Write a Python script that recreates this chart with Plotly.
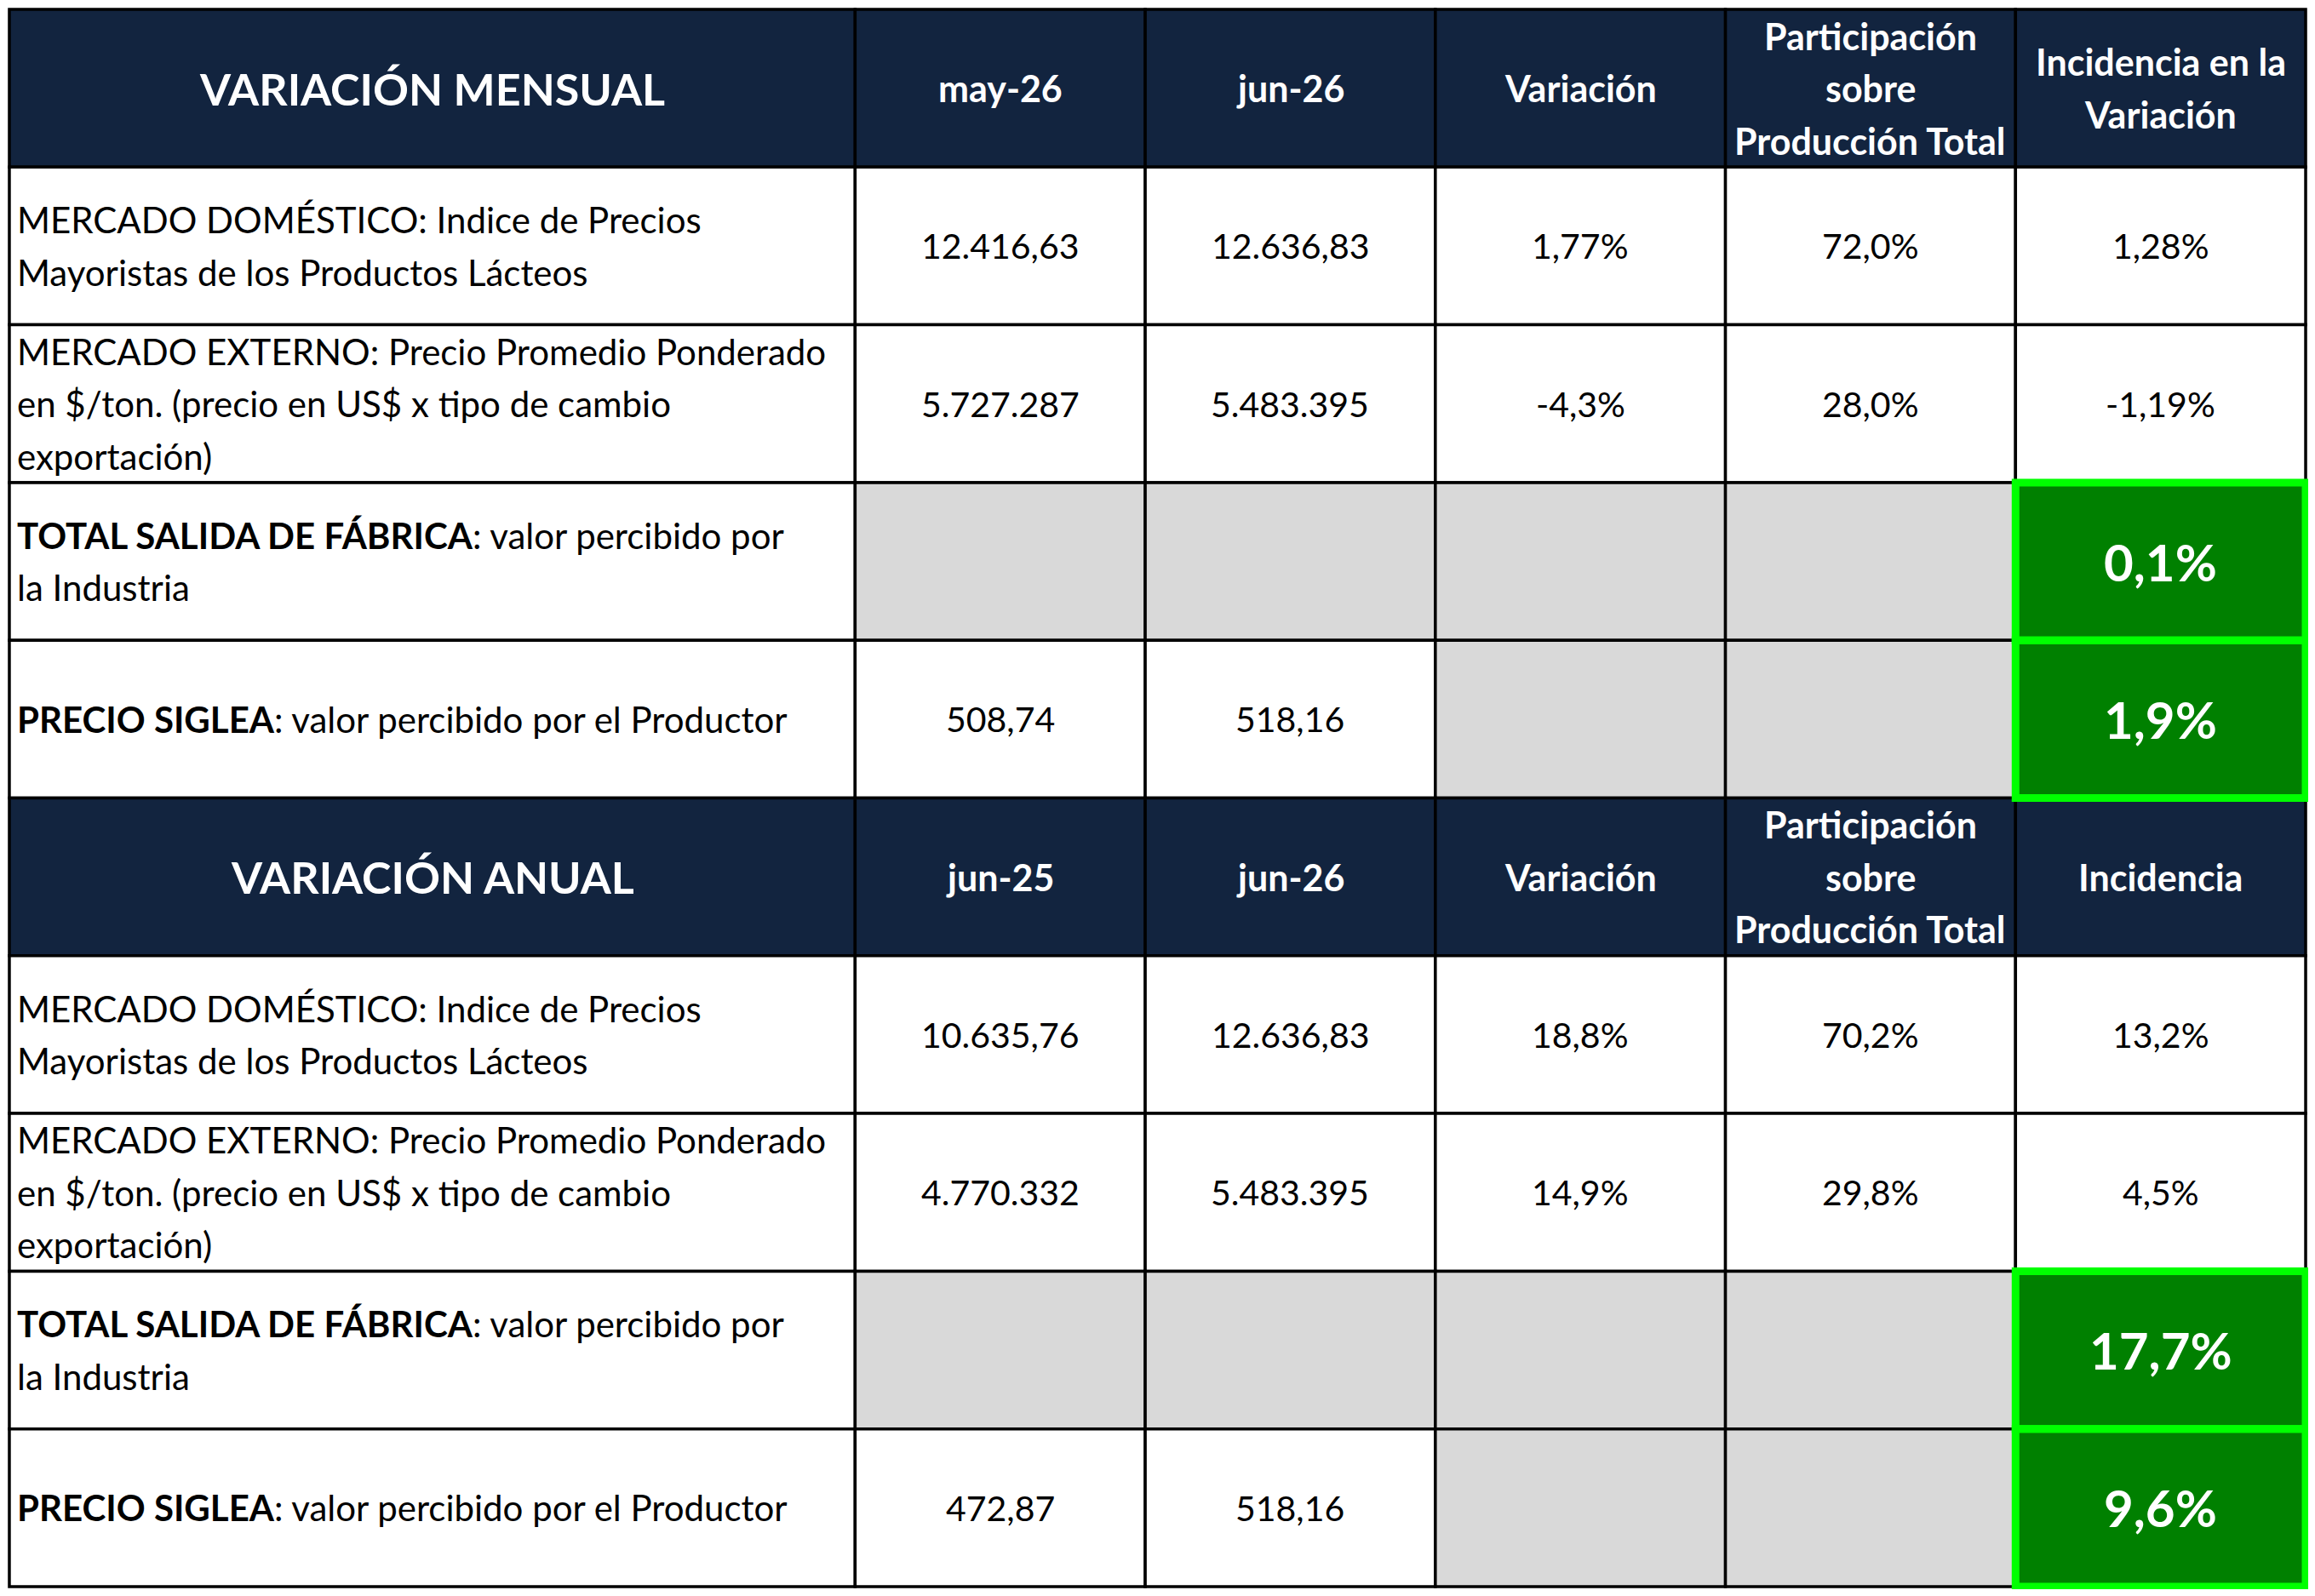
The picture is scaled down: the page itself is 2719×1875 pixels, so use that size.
import plotly.graph_objects as go

# Encabezados de cada bloque
cabecera_mensual = ['VARIACIÓN MENSUAL', 'may-26', 'jun-26', 'Variación',
                    'Participación<br>sobre<br>Producción Total', 'Incidencia en la<br>Variación']
cabecera_anual = ['VARIACIÓN ANUAL', 'jun-25', 'jun-26', 'Variación',
                  'Participación<br>sobre<br>Producción Total', 'Incidencia']

# Conceptos (primera columna)
conceptos = [
    'MERCADO DOMÉSTICO: Indice de Precios<br>Mayoristas de los Productos Lácteos',
    'MERCADO EXTERNO: Precio Promedio Ponderado<br>en $/ton. (precio en US$ x tipo de cambio<br>exportación)',
    '<b>TOTAL SALIDA DE FÁBRICA</b>: valor percibido por<br>la Industria',
    '<b>PRECIO SIGLEA</b>: valor percibido por el Productor',
]

# Variación mensual
mensual_base = ['12.416,63', '5.727.287', '', '508,74']
mensual_actual = ['12.636,83', '5.483.395', '', '518,16']
mensual_variacion = ['1,77%', '-4,3%', '', '']
mensual_participacion = ['72,0%', '28,0%', '', '']
mensual_incidencia = ['1,28%', '-1,19%', '0,1%', '1,9%']

# Variación anual
anual_base = ['10.635,76', '4.770.332', '', '472,87']
anual_actual = ['12.636,83', '5.483.395', '', '518,16']
anual_variacion = ['18,8%', '14,9%', '', '']
anual_participacion = ['70,2%', '29,8%', '', '']
anual_incidencia = ['13,2%', '4,5%', '17,7%', '9,6%']

# filas destacadas en verde (TOTAL y SIGLEA)
destacadas = [2, 3]

# --- layout constants ---
W, H = 2719, 1875
col_w = [1000, 343, 343, 343, 343, 343]
row_h = 187
line_gap = 62
col_x = [sum(col_w[:i]) for i in range(len(col_w) + 1)]

NAVY = '#12243F'
GRIS = '#D9D9D9'
VERDE = '#008000'
VERDE_BORDE = '#00FF00'
FONT = 'Lato'

bloques = [
    (cabecera_mensual, [mensual_base, mensual_actual, mensual_variacion,
                        mensual_participacion, mensual_incidencia]),
    (cabecera_anual, [anual_base, anual_actual, anual_variacion,
                      anual_participacion, anual_incidencia]),
]

fig = go.Figure()
shapes = []
annotations = []
green_shapes = []


def cell(c, r, fill):
    shapes.append(dict(type='rect', xref='x', yref='y',
                       x0=col_x[c], x1=col_x[c + 1], y0=r * row_h, y1=(r + 1) * row_h,
                       fillcolor=fill, line=dict(color='black', width=3.5), layer='below'))


def text(c, r, s, color='black', size=41, left=False, bold=False):
    if left:
        x, xa = col_x[c] + 7, 'left'
    else:
        x, xa = (col_x[c] + col_x[c + 1]) / 2, 'center'
    lines = s.split('<br>')
    n = len(lines)
    for k, ln in enumerate(lines):
        if bold:
            ln = '<b>' + ln + '</b>'
        y = (r + 0.5) * row_h + (k - (n - 1) / 2) * line_gap
        annotations.append(dict(x=x, y=y, xref='x', yref='y', text=ln,
                                showarrow=False, xanchor=xa, yanchor='middle',
                                font=dict(family=FONT, size=size, color=color)))


row = 0
for cabecera, columnas in bloques:
    # header row
    for c, h in enumerate(cabecera):
        cell(c, row, NAVY)
        text(c, row, h, color='white', size=52 if c == 0 else 43, bold=True)
    row += 1
    for i, concepto in enumerate(conceptos):
        cell(0, row, 'white')
        text(0, row, concepto, size=42, left=True)
        for j, valores in enumerate(columnas):
            c = j + 1
            v = valores[i]
            if c == 5 and i in destacadas:
                cell(c, row, VERDE)
                green_shapes.append(dict(type='rect', xref='x', yref='y',
                                         x0=col_x[c], x1=col_x[c + 1],
                                         y0=row * row_h, y1=(row + 1) * row_h,
                                         fillcolor='rgba(0,0,0,0)',
                                         line=dict(color=VERDE_BORDE, width=9)))
                text(c, row, v, color='white', size=60, bold=True)
            else:
                cell(c, row, GRIS if v == '' else 'white')
                if v:
                    text(c, row, v)
        row += 1

# the page body adds an 8px margin, so keep the div inside the window
fig.update_layout(
    width=W - 16, height=H - 16,
    margin=dict(l=0, r=0, t=0, b=0),
    paper_bgcolor='white', plot_bgcolor='white',
    xaxis=dict(range=[-3, col_x[-1] + 3], visible=False, fixedrange=True),
    yaxis=dict(range=[row * row_h + 3, -3], visible=False, fixedrange=True),
    shapes=shapes + green_shapes,
    annotations=annotations,
    showlegend=False,
)

fig.write_html("out.html")
